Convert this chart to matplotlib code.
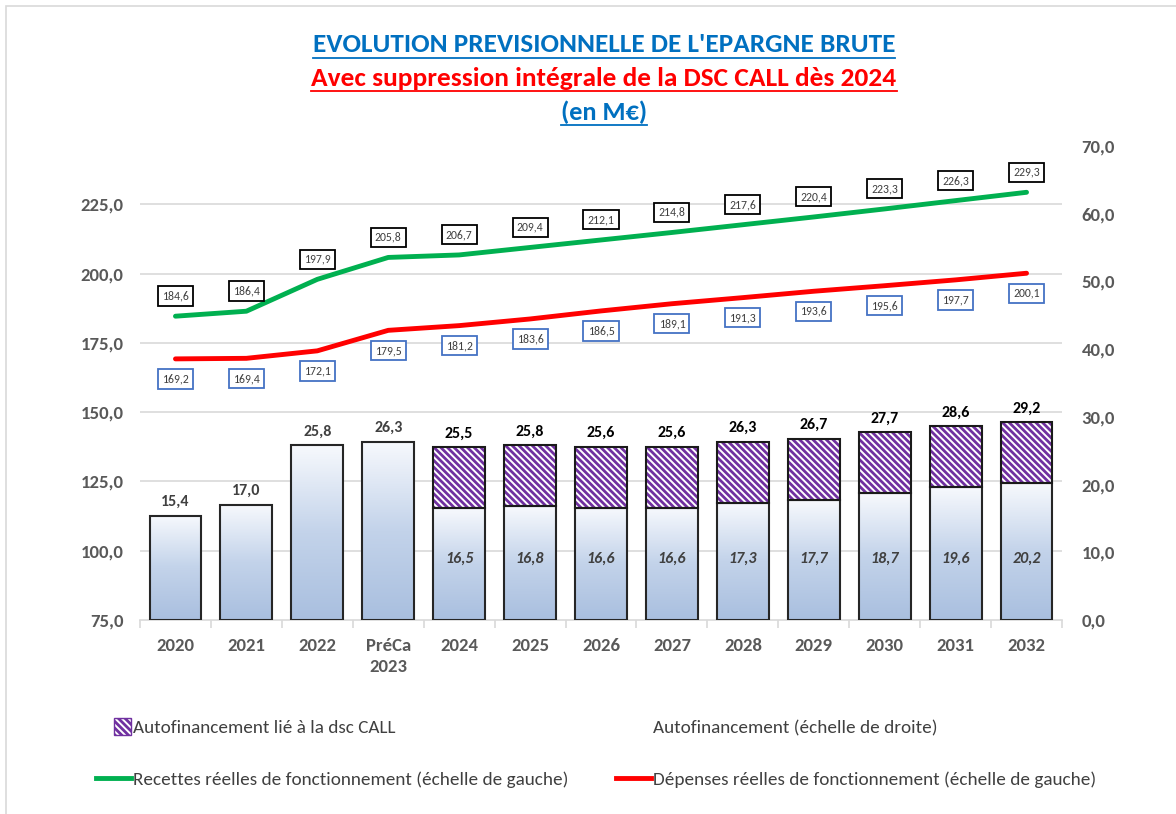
import numpy as np
import matplotlib
matplotlib.use("Agg")
import matplotlib.pyplot as plt
import matplotlib.patches as mpatches
import matplotlib.transforms as mtransforms
from matplotlib.lines import Line2D
from matplotlib.legend_handler import HandlerPatch
from matplotlib.colors import LinearSegmentedColormap
from matplotlib import font_manager

# data (M€)
years = ["2020", "2021", "2022", "PréCa\n2023", "2024", "2025", "2026",
         "2027", "2028", "2029", "2030", "2031", "2032"]
recettes = [184.6, 186.4, 197.9, 205.8, 206.7, 209.4, 212.1, 214.8, 217.6,
            220.4, 223.3, 226.3, 229.3]
depenses = [169.2, 169.4, 172.1, 179.5, 181.2, 183.6, 186.5, 189.1, 191.3,
            193.6, 195.6, 197.7, 200.1]
autofin_total = [15.4, 17.0, 25.8, 26.3, 25.5, 25.8, 25.6, 25.6, 26.3, 26.7,
                 27.7, 28.6, 29.2]
autofin_hors_call = [np.nan, np.nan, np.nan, np.nan, 16.5, 16.8, 16.6, 16.6,
                     17.3, 17.7, 18.7, 19.6, 20.2]
left_ticks = [75, 100, 125, 150, 175, 200, 225]
right_ticks = [0, 10, 20, 30, 40, 50, 60, 70]


def pick_font(cands):
    for c in cands:
        try:
            font_manager.findfont(font_manager.FontProperties(family=c),
                                  fallback_to_default=False)
            return c
        except ValueError:
            pass
    return "DejaVu Sans"


FONT = pick_font(["Carlito", "Lato", "Open Sans"])
plt.rcParams["font.family"] = [FONT, "DejaVu Sans"]
plt.rcParams["hatch.linewidth"] = 2.0

GREY = "#595959"
PURPLE = "#7030a0"
BLUE = "#0070c0"


def fr(v):
    return f"{v:.1f}".replace(".", ",")


W, H = 1176, 814
fig = plt.figure(figsize=(W / 100, H / 100), dpi=100)
# axes box in pixels: x 140..1062, y 146..620
ax2 = fig.add_axes([140 / W, 1 - 620 / H, 922 / W, 474 / H])   # bars, right scale
ax = ax2.twinx()                                                # lines, left scale
ax.yaxis.tick_left()
ax2.yaxis.tick_right()
ax.set_zorder(ax2.get_zorder() + 1)
ax.patch.set_visible(False)

x = np.arange(len(years))
n = len(years)
total = np.array(autofin_total)
hors = np.array(autofin_hors_call)
base = np.where(np.isnan(hors), total, hors)
call = total - base

ax.set_ylim(75, 246)
ax2.set_ylim(0, 70)

# gridlines from the left scale, behind bars
gtr = mtransforms.blended_transform_factory(ax2.transAxes, ax.transData)
for v in left_ticks[1:]:
    ax2.plot([0, 1], [v, v], color="#d9d9d9", lw=1.2, transform=gtr, zorder=0.5)

bw = 0.73
cmap = LinearSegmentedColormap.from_list("g", ["#a9bfdf", "#c3d3ea", "#f7f9fd"])
grad = np.linspace(0, 1, 256).reshape(-1, 1)
base_bars = ax2.bar(x, base, bw, color="none", edgecolor="#262626", lw=1.5, zorder=3)
for rect in base_bars:
    x0 = rect.get_x()
    im = ax2.imshow(grad, extent=[x0, x0 + rect.get_width(), 0, rect.get_height()],
                    origin="lower", aspect="auto", cmap=cmap, zorder=2)
    im.set_clip_path(rect)
call_h = np.nan_to_num(call)
ax2.bar(x, call_h, bw, bottom=base, color="white", edgecolor=PURPLE, lw=0,
        hatch="\\\\\\\\\\", zorder=2)
ax2.bar(x[4:], call_h[4:], bw, bottom=base[4:], color="none", edgecolor="#1a1a1a",
        lw=1.5, zorder=3)
ax2.set_xlim(-0.5, n - 0.5)
ax2.set_ylim(0, 70)

for i in range(n):
    ax2.annotate(fr(total[i]), (x[i], total[i]), xytext=(0, 5), textcoords="offset points",
                 ha="center", va="bottom", fontsize=11.5, fontweight="bold",
                 color="#404040" if i < 4 else "black")
    if not np.isnan(hors[i]):
        ax2.text(x[i], 9.0, fr(hors[i]), ha="center", va="center", fontsize=11.5,
                 fontweight="bold", style="italic", color="#404040", zorder=4)

# lines
ax.plot(x, recettes, color="#00b050", lw=3.5, solid_capstyle="round", zorder=3)
ax.plot(x, depenses, color="#ff0000", lw=3.5, solid_capstyle="round", zorder=3)
for i in range(n):
    ax.annotate(fr(recettes[i]), (x[i], recettes[i]), xytext=(0, 14.5),
                textcoords="offset points", ha="center", va="center", fontsize=8.5,
                color="#404040",
                bbox=dict(boxstyle="square,pad=0.35", fc="white", ec="black", lw=1.3))
    ax.annotate(fr(depenses[i]), (x[i], depenses[i]), xytext=(0, -14.5),
                textcoords="offset points", ha="center", va="center", fontsize=8.5,
                color="#404040",
                bbox=dict(boxstyle="square,pad=0.35", fc="white", ec="#4472c4", lw=1.3))
ax.set_ylim(75, 246)
ax.set_xlim(-0.5, n - 0.5)

# axes styling
for a in (ax, ax2):
    for s in a.spines.values():
        s.set_visible(False)
ax2.spines["bottom"].set_visible(True)
ax2.spines["bottom"].set_color("#d9d9d9")
ax2.spines["bottom"].set_linewidth(1.2)

ax.set_yticks(left_ticks)
ax.set_yticklabels([fr(v) for v in left_ticks])
ax.tick_params(axis="y", length=0, pad=12, labelsize=13.5, labelcolor=GREY)
ax2.set_yticks(right_ticks)
ax2.set_yticklabels([fr(v) for v in right_ticks])
ax2.tick_params(axis="y", length=0, pad=14, labelsize=13.5, labelcolor=GREY)
ax.tick_params(axis="x", which="both", bottom=False, labelbottom=False)
ax2.set_xticks(x)
ax2.set_xticklabels(years)
ax2.set_xticks(np.arange(-0.5, n, 1.0), minor=True)
ax2.tick_params(axis="x", which="major", length=0, pad=13, labelsize=13.5,
                labelcolor=GREY)
ax2.tick_params(axis="x", which="minor", length=6, color="#d9d9d9", width=1.2)
for t in ax.get_yticklabels() + ax2.get_yticklabels() + ax2.get_xticklabels():
    t.set_fontweight("bold")
for t in ax2.get_xticklabels():
    t.set_linespacing(1.4)

# titles, underlined
titles = [("EVOLUTION PREVISIONNELLE DE L'EPARGNE BRUTE", BLUE, 45, 582),
          ("Avec suppression intégrale de la DSC CALL dès 2024", "#ff0000", 78, 584),
          ("(en M€)", BLUE, 112, 86)]
renderer = fig.canvas.get_renderer()
for txt, col, yc, target in titles:
    t = fig.text(604 / W, 1 - yc / H, txt, ha="center", va="center", color=col,
                 fontsize=16, fontweight="bold")
    w = t.get_window_extent(renderer).width
    t.set_fontsize(16 * target / w)
    bb = t.get_window_extent(renderer)
    yl = (bb.y0 - 1) / H
    fig.add_artist(Line2D([bb.x0 / W, bb.x1 / W], [yl, yl], color=col, lw=1.3))


# legends
def square_patch(legend, orig_handle, xdescent, ydescent, width, height, fontsize):
    s = 12
    return mpatches.Rectangle((width - s - xdescent, -ydescent + (height - s) / 2), s, s)


h_call = mpatches.Patch(facecolor="white", edgecolor=PURPLE, hatch="\\\\\\\\\\", lw=1)
h_auto = mpatches.Patch(facecolor="none", edgecolor="none")
h_rec = Line2D([], [], color="#00b050", lw=3.5)
h_dep = Line2D([], [], color="#ff0000", lw=3.5)
leg_kw = dict(frameon=False, fontsize=13.8, labelspacing=1.85, handlelength=1.85,
              handletextpad=0.1, borderpad=0, labelcolor="#404040",
              handler_map={mpatches.Patch: HandlerPatch(patch_func=square_patch)})
fig.legend([h_call, h_rec], ["Autofinancement lié à la dsc CALL",
                             "Recettes réelles de fonctionnement (échelle de gauche)"],
           loc="upper left", bbox_to_anchor=(86 / W, 1 - 710 / H), **leg_kw)
fig.legend([h_auto, h_dep], ["Autofinancement (échelle de droite)",
                             "Dépenses réelles de fonctionnement (échelle de gauche)"],
           loc="upper left", bbox_to_anchor=(606 / W, 1 - 710 / H), **leg_kw)

# outer frame (top/left visible)
fig.add_artist(mpatches.Rectangle((6 / W, -0.01), 1.02, 1 - 6 / H + 0.01,
                                  transform=fig.transFigure, fill=False,
                                  ec="#d9d9d9", lw=1.2))

fig.savefig("out.png", dpi=100)
